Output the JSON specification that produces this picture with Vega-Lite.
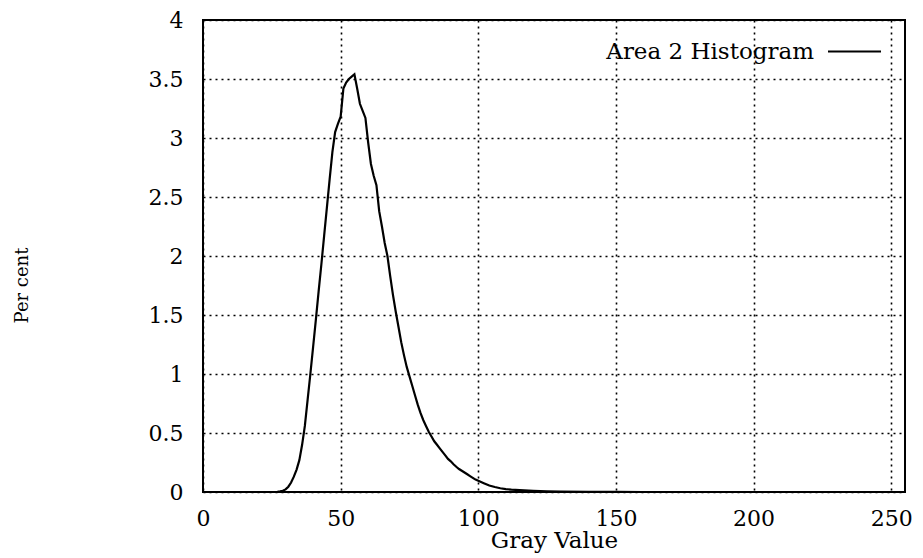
{
  "$schema": "https://vega.github.io/schema/vega-lite/v6.json",
  "autosize": {"type": "none"},
  "width": 702,
  "height": 472,
  "padding": {"left": 203, "top": 20, "right": 18, "bottom": 66},
  "background": "white",
  "config": {
    "view": {"stroke": "black", "strokeWidth": 2},
    "font": "DejaVu Serif",
    "axis": {
      "domain": false,
      "ticks": false,
      "tickSize": 0,
      "grid": true,
      "gridColor": "black",
      "gridDash": [2, 4],
      "gridWidth": 1.6,
      "gridOpacity": 1,
      "labelFont": "DejaVu Serif",
      "labelFontSize": 22,
      "labelColor": "black",
      "titleFont": "DejaVu Serif",
      "titleFontSize": 23,
      "titleFontWeight": "normal",
      "titleColor": "black"
    }
  },
  "data": {
    "values": [
      {"g": 0, "p": 0}, {"g": 10, "p": 0}, {"g": 20, "p": 0}, {"g": 26, "p": 0},
      {"g": 27, "p": 0.002}, {"g": 28, "p": 0.005}, {"g": 29, "p": 0.01}, {"g": 30, "p": 0.022},
      {"g": 31, "p": 0.045}, {"g": 32, "p": 0.08}, {"g": 33, "p": 0.13}, {"g": 34, "p": 0.19},
      {"g": 35, "p": 0.27}, {"g": 36, "p": 0.4}, {"g": 37, "p": 0.56}, {"g": 38, "p": 0.78},
      {"g": 39, "p": 1.0}, {"g": 40, "p": 1.23}, {"g": 41, "p": 1.46}, {"g": 42, "p": 1.7},
      {"g": 43, "p": 1.93}, {"g": 44, "p": 2.17}, {"g": 45, "p": 2.41}, {"g": 46, "p": 2.65},
      {"g": 47, "p": 2.88}, {"g": 48, "p": 3.05}, {"g": 49, "p": 3.12}, {"g": 50, "p": 3.18},
      {"g": 51, "p": 3.42}, {"g": 52, "p": 3.47}, {"g": 53, "p": 3.5}, {"g": 54, "p": 3.52},
      {"g": 55, "p": 3.54}, {"g": 56, "p": 3.42}, {"g": 57, "p": 3.29}, {"g": 58, "p": 3.23},
      {"g": 59, "p": 3.17}, {"g": 60, "p": 2.96}, {"g": 61, "p": 2.78}, {"g": 62, "p": 2.68},
      {"g": 63, "p": 2.6}, {"g": 64, "p": 2.38}, {"g": 65, "p": 2.25}, {"g": 66, "p": 2.11},
      {"g": 67, "p": 2.0}, {"g": 68, "p": 1.83}, {"g": 69, "p": 1.67}, {"g": 70, "p": 1.53},
      {"g": 71, "p": 1.4}, {"g": 72, "p": 1.27}, {"g": 73, "p": 1.16}, {"g": 74, "p": 1.06},
      {"g": 75, "p": 0.98}, {"g": 76, "p": 0.9}, {"g": 77, "p": 0.82}, {"g": 78, "p": 0.74},
      {"g": 79, "p": 0.67}, {"g": 80, "p": 0.61}, {"g": 81, "p": 0.56}, {"g": 82, "p": 0.51},
      {"g": 83, "p": 0.47}, {"g": 84, "p": 0.43}, {"g": 85, "p": 0.4}, {"g": 86, "p": 0.37},
      {"g": 87, "p": 0.34}, {"g": 88, "p": 0.31}, {"g": 89, "p": 0.28}, {"g": 90, "p": 0.26},
      {"g": 91, "p": 0.235}, {"g": 92, "p": 0.214}, {"g": 93, "p": 0.195}, {"g": 94, "p": 0.18},
      {"g": 95, "p": 0.165}, {"g": 96, "p": 0.15}, {"g": 97, "p": 0.135}, {"g": 98, "p": 0.12},
      {"g": 99, "p": 0.105}, {"g": 100, "p": 0.095}, {"g": 102, "p": 0.075}, {"g": 104, "p": 0.055},
      {"g": 106, "p": 0.042}, {"g": 108, "p": 0.032}, {"g": 110, "p": 0.025}, {"g": 112, "p": 0.02},
      {"g": 115, "p": 0.016}, {"g": 120, "p": 0.01}, {"g": 125, "p": 0.006}, {"g": 130, "p": 0.004},
      {"g": 140, "p": 0.002}, {"g": 150, "p": 0.001}, {"g": 160, "p": 0}, {"g": 200, "p": 0},
      {"g": 255, "p": 0}
    ]
  },
  "transform": [{"calculate": "'Area 2 Histogram'", "as": "series"}],
  "mark": {"type": "line", "strokeWidth": 2.2, "interpolate": "linear"},
  "encoding": {
    "x": {
      "field": "g",
      "type": "quantitative",
      "scale": {"domain": [0, 255], "nice": false, "zero": false},
      "axis": {"values": [0, 50, 100, 150, 200, 250], "format": "d", "title": "Gray Value", "labelPadding": 16, "titlePadding": 0, "labelFlush": false}
    },
    "y": {
      "field": "p",
      "type": "quantitative",
      "scale": {"domain": [0, 4], "nice": false},
      "axis": {
        "values": [0, 0.5, 1, 1.5, 2, 2.5, 3, 3.5, 4],
        "format": "~r",
        "labelPadding": 20,
        "labelFlush": false,
        "title": "Per cent",
        "titleFontSize": 18,
        "titleAngle": -90,
        "titleX": -181,
        "titleY": 265,
        "titleAlign": "center",
        "titleBaseline": "middle"
      }
    },
    "color": {
      "field": "series",
      "type": "nominal",
      "scale": {"range": ["black"]},
      "legend": {
        "title": null,
        "orient": "none",
        "legendX": 624,
        "legendY": 4,
        "padding": 0,
        "symbolType": "stroke",
        "symbolSize": 2809,
        "symbolStrokeWidth": 2,
        "symbolStrokeColor": "black",
        "labelAlign": "right",
        "labelOffset": -68,
        "labelFont": "DejaVu Serif",
        "labelFontSize": 23,
        "labelColor": "black",
        "labelLimit": 400
      }
    }
  }
}
